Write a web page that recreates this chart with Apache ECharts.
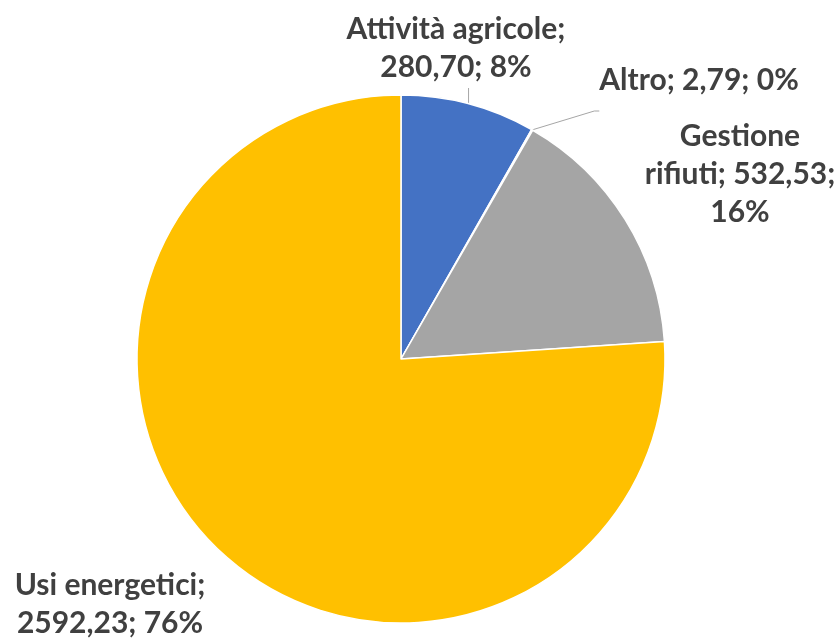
<!DOCTYPE html>
<html>
<head>
<meta charset="utf-8">
<script src="https://cdn.jsdelivr.net/npm/echarts@6/dist/echarts.min.js"></script>
<style>
  html, body { margin: 0; padding: 0; background: #ffffff; }
  #chart { width: 839px; height: 639px; }
</style>
</head>
<body>
<div id="chart"></div>
<script>
// Emissions by source (values with Italian decimal comma in labels)
const categories = ['Attività agricole', 'Altro', 'Gestione rifiuti', 'Usi energetici'];
const values = [280.70, 2.79, 532.53, 2592.23];
const colors = ['#4472C4', '#ED7D31', '#A5A5A5', '#FFC000'];

// Label placement (centre of each label block), wrap points and leader lines
const labelPlace = [
  { x: 456, y: 48, breaks: [1], line: 'bottom' },
  { x: 699, y: 80, breaks: [], line: 'corner' },
  { x: 740, y: 174, breaks: [0, 2], line: null },
  { x: 110, y: 604, breaks: [1], line: null }
];

const fmt = v => v.toFixed(2).replace('.', ',');

// Build "Name; value; pct%" and wrap after the listed tokens
function labelText(p) {
  const words = p.name.split(' ');
  words[words.length - 1] += ';';
  const tokens = words.concat([fmt(p.value) + ';', Math.round(p.percent) + '%']);
  const br = labelPlace[p.dataIndex].breaks;
  return tokens.map((t, i) => i < tokens.length - 1 ? t + (br.indexOf(i) >= 0 ? '\n' : ' ') : t).join('');
}

const chart = echarts.init(document.getElementById('chart'), null, { renderer: 'canvas' });

chart.setOption({
  animation: false,
  backgroundColor: '#ffffff',
  series: [{
    type: 'pie',
    center: [401, 359],
    radius: [0, 264],
    startAngle: 90,
    clockwise: true,
    percentPrecision: 0,
    itemStyle: { borderColor: '#ffffff', borderWidth: 1.5 },
    label: {
      show: true,
      position: 'outside',
      color: '#404040',
      fontFamily: 'Lato',
      fontWeight: 'bold',
      fontSize: 30,
      lineHeight: 38,
      align: 'center',
      overflow: 'none',
      formatter: labelText
    },
    labelLine: {
      show: true,
      length: 10,
      length2: 0,
      smooth: false,
      lineStyle: { color: '#A6A6A6', width: 1 }
    },
    labelLayout: params => {
      const pl = labelPlace[params.dataIndex];
      const out = { x: pl.x, y: pl.y, align: 'center', verticalAlign: 'middle' };
      const pts = params.labelLinePoints;
      if (pts && pl.line) {
        const w = params.labelRect.width, h = params.labelRect.height;
        const start = pts[0];
        if (pl.line === 'bottom') {
          // straight drop from the slice edge up to the label's lower edge
          out.labelLinePoints = [start, [start[0], pl.y + h / 2 + 2], [start[0], pl.y + h / 2 + 2]];
        } else {
          // slanted leader ending just below-left of the label, with a short tail
          const ex = pl.x - w / 2, ey = pl.y + h / 2 + 12;
          out.labelLinePoints = [start, [ex - 5, ey], [ex, ey]];
        }
      }
      return out;
    },
    data: categories.map((name, i) => ({
      name: name,
      value: values[i],
      itemStyle: { color: colors[i] },
      labelLine: { show: !!labelPlace[i].line }
    }))
  }]
});
</script>
</body>
</html>
